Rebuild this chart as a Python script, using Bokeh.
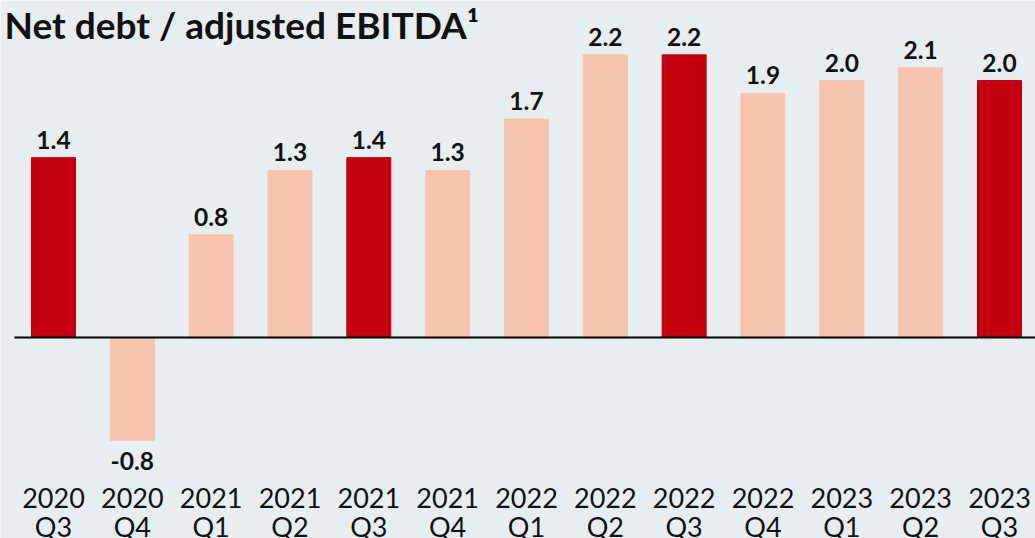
from bokeh.plotting import figure
from bokeh.models import ColumnDataSource, Range1d, Label
from bokeh.core.properties import value
from bokeh.embed import file_html
from bokeh.resources import INLINE

years = ["2020", "2020", "2021", "2021", "2021", "2021", "2022", "2022", "2022", "2022", "2023", "2023", "2023"]
quarters = ["Q3", "Q4", "Q1", "Q2", "Q3", "Q4", "Q1", "Q2", "Q3", "Q4", "Q1", "Q2", "Q3"]
ratios = [1.4, -0.8, 0.8, 1.3, 1.4, 1.3, 1.7, 2.2, 2.2, 1.9, 2.0, 2.1, 2.0]
highlight = [q == "Q3" for q in quarters]

RED = "#c4000f"
SALMON = "#f7c4b0"
BG = "#e6eef0"

idx = list(range(len(ratios)))
src = ColumnDataSource(dict(
    x=idx,
    top=ratios,
    color=[RED if h else SALMON for h in highlight],
    year=years,
    quarter=quarters,
))

p = figure(width=1035, height=538, output_backend="svg", toolbar_location=None,
           x_range=Range1d(-0.672, 12.457), y_range=Range1d(-1.564, 2.623),
           min_border=0, background_fill_color=BG, border_fill_color=BG)
p.outline_line_color = None
p.axis.visible = False
p.grid.visible = False

p.vbar(x="x", top="top", bottom=0, width=0.558, color="color", source=src)
p.segment(x0=-0.495, y0=0, x1=12.457, y1=0, line_color="black", line_width=2)

pos = ColumnDataSource(dict(x=[i for i, v in zip(idx, ratios) if v >= 0],
                            y=[v for v in ratios if v >= 0],
                            t=[f"{v:.1f}" for v in ratios if v >= 0]))
neg = ColumnDataSource(dict(x=[i for i, v in zip(idx, ratios) if v < 0],
                            y=[v for v in ratios if v < 0],
                            t=[f"{v:.1f}" for v in ratios if v < 0]))
common = dict(text_font=value("Lato"), text_font_style="bold", text_font_size="24.5px",
              text_color="#111111", text_align="center", text_baseline="middle")
p.text(x="x", y="y", text="t", source=pos, y_offset=-18, **common)
p.text(x="x", y="y", text="t", source=neg, y_offset=21, **common)

cat = dict(text_font=value("Lato"), text_font_size="27px", text_color="#111111", text_align="center",
           text_baseline="middle")
p.text(x="x", y=-1.245, text="year", source=src, **cat)
p.text(x="x", y=-1.471, text="quarter", source=src, **cat)

title = Label(x=4, y=538 - 24, x_units="screen", y_units="screen",
              text="Net debt / adjusted EBITDA\u00b9", text_font="Lato", text_font_style="bold",
              text_font_size="37px", text_color="#111111", text_baseline="middle")
p.add_layout(title)

open("out.html", "w").write(file_html(p, INLINE))
